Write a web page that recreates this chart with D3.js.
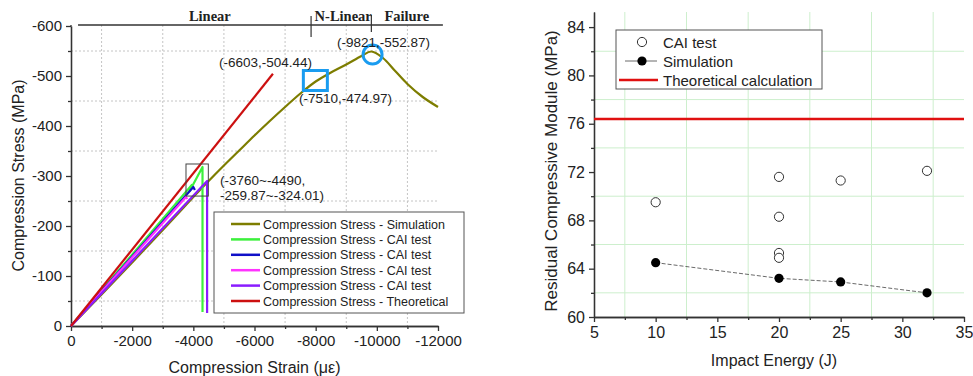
<!DOCTYPE html>
<meta charset="utf-8">
<style>
body { margin: 0; background: #fff; }
text { font-family: Arial, "Liberation Sans", sans-serif; fill: #222; }
.serif { font-family: "Liberation Serif", "Times New Roman", serif; font-weight: bold; }
.axis path, .axis line { stroke: #333; stroke-width: 1.3px; }
.axis text { fill: #222; }
.grid1 { stroke: #c4c4c4; stroke-width: 1px; stroke-dasharray: 2,2; }
.grid2 { stroke: #cdefcd; stroke-width: 1px; }
.line { fill: none; stroke-width: 2.2px; stroke-linejoin: round; }
</style>
<svg id="svg1" width="973" height="376"></svg>
<script src="https://cdn.jsdelivr.net/npm/d3@7"></script>
<script>
// ---- left chart data ----
var simStrain = [0, -1000, -2000, -3000, -4000, -4500, -5000, -5500, -6000, -6500, -7000, -7500, -8000, -8500, -9000, -9500, -9821, -10200, -10600, -11000, -11500, -12000];
var simStress = [0, -63, -127, -192, -258, -290, -321, -351, -381, -410, -438, -465, -489, -507, -523, -540, -549, -536, -510, -484, -458, -438];
var greenStrain = [0, -3950, -3880, -4300, -4300];
var greenStress = [0, -282, -270, -318, -28];
var blueStrain = [0, -4000, -4050];
var blueStress = [0, -278, -272];
var magentaStrain = [0, -3760, -3800];
var magentaStress = [0, -258, -254];
var violetStrain = [0, -4450, -4450];
var violetStress = [0, -290, -26];
var theoStrain = [0, -6603];
var theoStress = [0, -504.44];
var seriesNames = ["Compression Stress - Simulation", "Compression Stress - CAI test", "Compression Stress - CAI test",
  "Compression Stress - CAI test", "Compression Stress - CAI test", "Compression Stress - Theoretical"];
var seriesColors = ["#7d7d00", "#3cf03c", "#1010c8", "#ff33ff", "#8a1cff", "#cc1010"];
var xTicks1 = [0, -2000, -4000, -6000, -8000, -10000, -12000];
var yTicks1 = [0, -100, -200, -300, -400, -500, -600];
var phaseNames = ["Linear", "N-Linear", "Failure"];
var phaseBounds = [-7850, -9821];
var failBox = {strain: [-3760, -4490], stress: [-259.87, -324.01]};
var squareAt = [-7990, -491], circleAt = [-9860, -543];

// ---- right chart data ----
var caiEnergy = [10, 20, 20, 20, 20, 25, 32];
var caiModule = [69.5, 71.6, 68.3, 65.3, 64.9, 71.3, 72.1];
var simEnergy = [10, 20, 25, 32];
var simModule = [64.5, 63.2, 62.9, 62.0];
var theoModule = 76.4;
var xTicks2 = [5, 10, 15, 20, 25, 30, 35];
var yTicks2 = [60, 64, 68, 72, 76, 80, 84];

var svg = d3.select("#svg1");
svg.append("rect").attr("width", 973).attr("height", 376).attr("fill", "#fff");

// ================= LEFT =================
var x1 = d3.scaleLinear().domain([0, -12000]).range([71, 438]),
    y1 = d3.scaleLinear().domain([0, -600]).range([326, 26]);
var g1 = svg.append("g");

// grid at minor positions
d3.range(-1000, -12000, -2000).forEach(function(v) {
  g1.append("line").attr("class", "grid1").attr("x1", x1(v)).attr("x2", x1(v)).attr("y1", 25).attr("y2", y1(0));
});
d3.range(-50, -600, -100).forEach(function(v) {
  g1.append("line").attr("class", "grid1").attr("x1", x1(0)).attr("x2", x1(-12000)).attr("y1", y1(v)).attr("y2", y1(v));
});

var fmt = function(d) { return String(d); };
g1.append("g").attr("class", "axis").attr("transform", "translate(0," + y1(0) + ")")
  .call(d3.axisBottom(x1).tickValues(xTicks1).tickFormat(fmt).tickSize(5).tickSizeOuter(0).tickPadding(4))
  .selectAll("text").style("font-size", "15px");
g1.append("g").attr("class", "axis").attr("transform", "translate(0," + y1(0) + ")")
  .call(d3.axisBottom(x1).tickValues(d3.range(-1000, -12000, -2000)).tickFormat("").tickSize(3).tickSizeOuter(0));
g1.append("g").attr("class", "axis").attr("transform", "translate(" + x1(0) + ",0)")
  .call(d3.axisLeft(y1).tickValues(yTicks1).tickFormat(fmt).tickSize(5).tickSizeOuter(0).tickPadding(4))
  .selectAll("text").style("font-size", "15px");
g1.append("g").attr("class", "axis").attr("transform", "translate(" + x1(0) + ",0)")
  .call(d3.axisLeft(y1).tickValues(d3.range(-50, -600, -100)).tickFormat("").tickSize(3).tickSizeOuter(0));
// extend left axis line to the top rule
g1.append("line").attr("stroke", "#333").attr("stroke-width", 1.3).attr("x1", x1(0)).attr("x2", x1(0)).attr("y1", 25).attr("y2", y1(-600));

g1.append("text").attr("x", (x1(0) + x1(-12000)) / 2).attr("y", 373).attr("text-anchor", "middle")
  .style("font-size", "16px").text("Compression Strain (με)");
g1.append("text").attr("transform", "translate(24," + ((y1(0) + 25) / 2) + ") rotate(-90)").attr("text-anchor", "middle")
  .style("font-size", "16px").text("Compression Stress (MPa)");

// phase header rule
g1.append("line").attr("stroke", "#333").attr("stroke-width", 1.3)
  .attr("x1", x1(-230)).attr("x2", x1(-12160)).attr("y1", 25).attr("y2", 25);
phaseBounds.forEach(function(b, i) {
  g1.append("line").attr("stroke", "#333").attr("stroke-width", 1.2)
    .attr("x1", x1(b)).attr("x2", x1(b)).attr("y1", i === 0 ? 16 : 15).attr("y2", i === 0 ? 37 : 32);
});
var phaseX = [-4540, -8900, -10980];
phaseNames.forEach(function(n, i) {
  g1.append("text").attr("class", "serif").attr("x", x1(phaseX[i])).attr("y", 21)
    .attr("text-anchor", "middle").style("font-size", "14.5px").text(n);
});

var line1 = d3.line().x(function(d) { return x1(d[0]); }).y(function(d) { return y1(d[1]); });
var zip = function(a, b) { return a.map(function(v, i) { return [v, b[i]]; }); };
var series = [
  zip(simStrain, simStress), zip(greenStrain, greenStress), zip(blueStrain, blueStress),
  zip(magentaStrain, magentaStress), zip(violetStrain, violetStress), zip(theoStrain, theoStress)
];
series.forEach(function(s, i) {
  g1.append("path").attr("class", "line")
    .attr("d", (i === 0 ? line1.curve(d3.curveCatmullRom) : line1.curve(d3.curveLinear))(s))
    .style("stroke", seriesColors[i]);
});

// failure range box
g1.append("rect").attr("x", x1(failBox.strain[0])).attr("y", y1(failBox.stress[1]))
  .attr("width", x1(failBox.strain[1]) - x1(failBox.strain[0]))
  .attr("height", y1(failBox.stress[0]) - y1(failBox.stress[1]))
  .attr("fill", "none").attr("stroke", "#444").attr("stroke-width", 1);

// highlight markers
g1.append("rect").attr("x", x1(squareAt[0]) - 12).attr("y", y1(squareAt[1]) - 10).attr("width", 24).attr("height", 20)
  .attr("fill", "none").attr("stroke", "#1a9cf0").attr("stroke-width", 3);
g1.append("circle").attr("cx", x1(circleAt[0])).attr("cy", y1(circleAt[1])).attr("r", 9.5)
  .attr("fill", "none").attr("stroke", "#1a9cf0").attr("stroke-width", 3);

var ann = [
  {t: "(-6603,-504.44)", x: 219, y: 67},
  {t: "(-7510,-474.97)", x: 299, y: 103},
  {t: "(-9821,-552.87)", x: 337, y: 47},
  {t: "(-3760~-4490,", x: 220, y: 185},
  {t: "-259.87~-324.01)", x: 220, y: 200}
];
ann.forEach(function(a) {
  g1.append("text").attr("x", a.x).attr("y", a.y).style("font-size", "13.5px").text(a.t);
});

// legend
var lg = g1.append("g").attr("transform", "translate(214,212)");
lg.append("rect").attr("width", 250).attr("height", 101).attr("fill", "#fff").attr("stroke", "#555").attr("stroke-width", 1);
seriesNames.forEach(function(n, i) {
  var yy = 12 + i * 15.4;
  lg.append("line").attr("x1", 17).attr("x2", 46).attr("y1", yy).attr("y2", yy)
    .attr("stroke", seriesColors[i]).attr("stroke-width", 2.5);
  lg.append("text").attr("x", 49).attr("y", yy + 4.5).style("font-size", "12.5px").text(n);
});

// ================= RIGHT =================
var x2 = d3.scaleLinear().domain([5, 35]).range([594, 964]),
    y2 = d3.scaleLinear().domain([60, 85.25]).range([317, 12]);
var g2 = svg.append("g");

d3.range(7.5, 35, 5).forEach(function(v) {
  g2.append("line").attr("class", "grid2").attr("x1", x2(v)).attr("x2", x2(v)).attr("y1", 12).attr("y2", y2(60));
});
d3.range(62, 84, 4).forEach(function(v) {
  g2.append("line").attr("class", "grid2").attr("x1", x2(5)).attr("x2", x2(35)).attr("y1", y2(v)).attr("y2", y2(v));
});

g2.append("g").attr("class", "axis").attr("transform", "translate(0," + y2(60) + ")")
  .call(d3.axisBottom(x2).tickValues(xTicks2).tickSize(5).tickSizeOuter(0).tickPadding(5))
  .selectAll("text").style("font-size", "16px");
g2.append("g").attr("class", "axis").attr("transform", "translate(0," + y2(60) + ")")
  .call(d3.axisBottom(x2).tickValues(d3.range(7.5, 35, 5)).tickFormat("").tickSize(3).tickSizeOuter(0));
g2.append("g").attr("class", "axis").attr("transform", "translate(" + x2(5) + ",0)")
  .call(d3.axisLeft(y2).tickValues(yTicks2).tickSize(5).tickSizeOuter(0).tickPadding(4))
  .selectAll("text").style("font-size", "16px");
g2.append("g").attr("class", "axis").attr("transform", "translate(" + x2(5) + ",0)")
  .call(d3.axisLeft(y2).tickValues(d3.range(62, 84, 4)).tickFormat("").tickSize(3).tickSizeOuter(0));

g2.append("text").attr("x", (x2(5) + x2(35)) / 2 - 5).attr("y", 366).attr("text-anchor", "middle")
  .style("font-size", "16px").text("Impact Energy (J)");
g2.append("text").attr("transform", "translate(557,171) rotate(-90)").attr("text-anchor", "middle")
  .style("font-size", "17px").text("Residual Compressive Module (MPa)");

g2.append("line").attr("x1", x2(5)).attr("x2", x2(35)).attr("y1", y2(theoModule)).attr("y2", y2(theoModule))
  .attr("stroke", "#e01010").attr("stroke-width", 2.5);

var simPts = zip(simEnergy, simModule);
g2.append("path").attr("d", d3.line().x(function(d) { return x2(d[0]); }).y(function(d) { return y2(d[1]); })(simPts))
  .attr("fill", "none").attr("stroke", "#444").attr("stroke-width", 0.8).attr("stroke-dasharray", "4,2");
g2.selectAll(".cai").data(zip(caiEnergy, caiModule)).enter().append("circle")
  .attr("cx", function(d) { return x2(d[0]); }).attr("cy", function(d) { return y2(d[1]); }).attr("r", 4.6)
  .attr("fill", "#fff").attr("stroke", "#333").attr("stroke-width", 1);
g2.selectAll(".sim").data(simPts).enter().append("circle")
  .attr("cx", function(d) { return x2(d[0]); }).attr("cy", function(d) { return y2(d[1]); }).attr("r", 4.6)
  .attr("fill", "#000");

var lg2 = g2.append("g").attr("transform", "translate(616,30)");
lg2.append("rect").attr("width", 206).attr("height", 59).attr("fill", "#fff").attr("stroke", "#555").attr("stroke-width", 1);
lg2.append("circle").attr("cx", 26).attr("cy", 12).attr("r", 4.6).attr("fill", "#fff").attr("stroke", "#333");
lg2.append("line").attr("x1", 9).attr("x2", 41).attr("y1", 31).attr("y2", 31).attr("stroke", "#444").attr("stroke-width", 0.8);
lg2.append("circle").attr("cx", 26).attr("cy", 31).attr("r", 4.6).attr("fill", "#000");
lg2.append("line").attr("x1", 3).attr("x2", 42).attr("y1", 50).attr("y2", 50).attr("stroke", "#e01010").attr("stroke-width", 2.5);
["CAI test", "Simulation", "Theoretical calculation"].forEach(function(n, i) {
  lg2.append("text").attr("x", 47).attr("y", 17.5 + i * 19).style("font-size", "15px").text(n);
});
</script>
